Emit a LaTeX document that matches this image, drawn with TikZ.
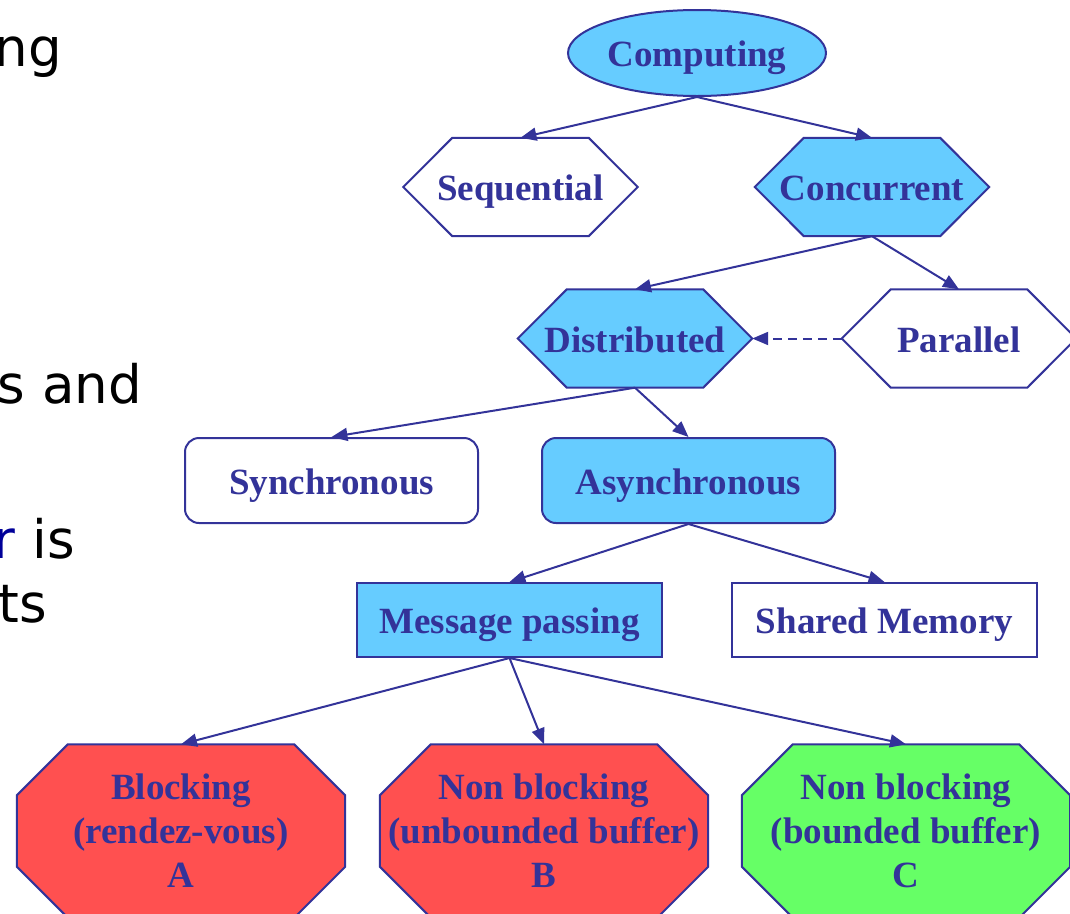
\documentclass[tikz,border=0pt]{standalone}
\usepackage{fontspec}
\setmainfont{Liberation Serif}
\newfontfamily\slidefont{DejaVu Sans}
\usetikzlibrary{shapes.geometric,arrows.meta,backgrounds}
\definecolor{azul}{HTML}{333399}
\definecolor{celeste}{HTML}{66CCFF}
\definecolor{rojo}{HTML}{FF5050}
\definecolor{verde}{HTML}{66FF66}
\definecolor{tinta}{HTML}{000099}
\tikzset{
  linea/.style={draw=azul, line width=2pt, line join=miter},
  base/.style={text=azul, align=center, inner sep=0pt,
               font=\fontsize{37}{44}\selectfont\bfseries},
  uno/.style={base, text height=27pt, text depth=0pt},
  ovalo/.style={uno, linea, ellipse, minimum width=258pt, minimum height=86pt},
  hexa/.style={uno, rectangle, minimum width=234pt, minimum height=98pt},
  octo/.style={base, rectangle, minimum width=328pt, minimum height=173pt},
  caja/.style={uno, linea, rectangle, minimum width=305pt, minimum height=74pt},
  cajar/.style={uno, linea, rectangle, rounded corners=14pt, minimum width=293pt, minimum height=85pt},
  flecha/.style={-{Triangle[length=16pt,width=13pt]}, draw=azul, line width=2pt},
  texto/.style={anchor=base east, inner sep=0pt, font=\slidefont\fontsize{53}{60}\selectfont}
}
% contornos de hexagonos y octogonos a partir del nodo
\newcommand{\hexpath}[1]{(#1.west) -- ([xshift=49pt]#1.north west) -- ([xshift=-49pt]#1.north east)
  -- (#1.east) -- ([xshift=-49pt]#1.south east) -- ([xshift=49pt]#1.south west) -- cycle}
\newcommand{\octpath}[1]{([yshift=-51pt]#1.north west) -- ([xshift=51pt]#1.north west)
  -- ([xshift=-51pt]#1.north east) -- ([yshift=-51pt]#1.north east)
  -- ([yshift=51pt]#1.south east) -- ([xshift=-51pt]#1.south east)
  -- ([xshift=51pt]#1.south west) -- ([yshift=51pt]#1.south west) -- cycle}
\begin{document}
\begin{tikzpicture}[x=1pt,y=-1pt]
\useasboundingbox (0,0) rectangle (1070,913);
% restos del texto de la diapositiva
\node[texto] (t1) at (62,66) {ng};
\node[texto] (t2) at (142,403) {s and};
\node[texto] (t3) at (75,558) {\textcolor{tinta}{r} is};
\node[texto] (t4) at (47,622) {ts};

\node[ovalo,fill=celeste] (comp) at (697,53) {Computing};
\node[hexa] (seq) at (520.5,187) {Sequential};
\node[hexa] (conc) at (872,187) {Concurrent};
\node[hexa] (dist) at (635,338.5) {Distributed};
\node[hexa] (par) at (959,338.5) {Parallel};
\node[cajar,fill=white] (sinc) at (331.5,480.5) {Synchronous};
\node[cajar,fill=celeste] (asinc) at (688.5,480.5) {Asynchronous};
\node[caja,fill=celeste] (msg) at (509.5,620) {Message passing};
\node[caja,fill=white] (mem) at (884.5,620) {Shared Memory};
\node[octo] (blq) at (181,831) {Blocking\\(rendez-vous)\\A};
\node[octo] (nbu) at (544,831) {Non blocking\\(unbounded buffer)\\B};
\node[octo] (nbb) at (906,831) {Non blocking\\(bounded buffer)\\C};

\begin{scope}[on background layer]
\filldraw[linea,fill=white] \hexpath{seq};
\filldraw[linea,fill=celeste] \hexpath{conc};
\filldraw[linea,fill=celeste] \hexpath{dist};
\filldraw[linea,fill=white] \hexpath{par};
\filldraw[linea,fill=rojo] \octpath{blq};
\filldraw[linea,fill=rojo] \octpath{nbu};
\filldraw[linea,fill=verde] \octpath{nbb};
\end{scope}

\draw[flecha] (comp.south) -- (seq.north);
\draw[flecha] (comp.south) -- (conc.north);
\draw[flecha] (conc.south) -- (dist.north);
\draw[flecha] (conc.south) -- (par.north);
\draw[flecha,dash pattern=on 9pt off 6pt] (par.west) -- (dist.east);
\draw[flecha] (dist.south) -- (sinc.north);
\draw[flecha] (dist.south) -- (asinc.north);
\draw[flecha] (asinc.south) -- (msg.north);
\draw[flecha] (asinc.south) -- (mem.north);
\draw[flecha] (msg.south) -- (blq.north);
\draw[flecha] (msg.south) -- (nbu.north);
\draw[flecha] (msg.south) -- (nbb.north);
\end{tikzpicture}
\end{document}
